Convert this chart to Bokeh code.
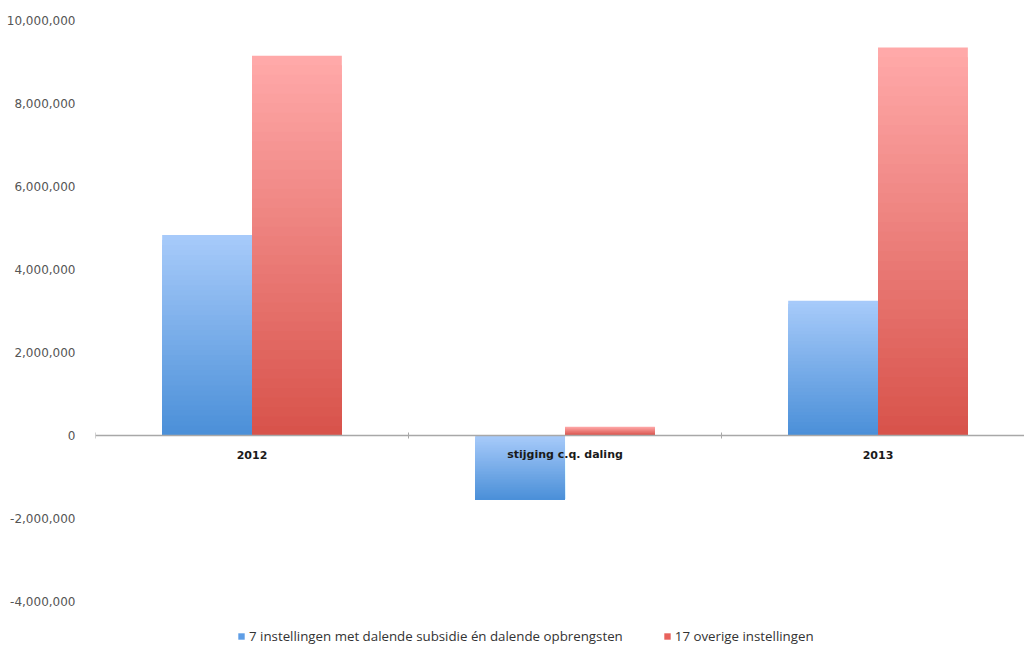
from bokeh.plotting import figure
from bokeh.models import (ColumnDataSource, Range1d, FixedTicker, NumeralTickFormatter,
                          Legend, LegendItem, Span)
from bokeh.core.properties import value
from bokeh.embed import file_html
from bokeh.resources import INLINE
import numpy as np

# ---- data ----
categories = ["2012", "stijging c.q. daling", "2013"]
series_names = ["7 instellingen met dalende subsidie én dalende opbrengsten",
                "17 overige instellingen"]
values_7 = [4830000, -1550000, 3250000]
values_17 = [9150000, 210000, 9350000]
y_ticks = [-4000000, -2000000, 0, 2000000, 4000000, 6000000, 8000000, 10000000]

# ---- styles ----
blue_top, blue_bot = (168, 203, 250), (74, 143, 216)
red_top, red_bot = (255, 170, 170), (216, 82, 74)
bar_w = 0.287
N = 40

def hexc(c):
    return "#%02x%02x%02x" % tuple(int(round(v)) for v in c)

def gradient_bars(vals, offset, ctop, cbot):
    # layered slices: each slice spans from its top edge down to the bar base
    left, right, bottom, top, color = [], [], [], [], []
    for i, v in enumerate(vals):
        lo, hi = min(0, v), max(0, v)
        edges = np.linspace(hi, lo, N + 1)
        for k in range(N):
            t = (k + 0.5) / N
            c = [ctop[j] + (cbot[j] - ctop[j]) * t for j in range(3)]
            left.append(i + offset - bar_w / 2)
            right.append(i + offset + bar_w / 2)
            top.append(edges[k])
            bottom.append(lo)
            color.append(hexc(c))
    return ColumnDataSource(dict(left=left, right=right, bottom=bottom, top=top, color=color))

p = figure(width=1024, height=645, output_backend="svg", toolbar_location=None,
           x_range=Range1d(-0.5, 2.468), y_range=Range1d(-5060000, 10000000),
           x_axis_location=None, min_border_left=95, min_border_right=0,
           min_border_top=20, min_border_bottom=0)
p.outline_line_color = None
p.grid.visible = False
p.background_fill_color = "white"

src7 = gradient_bars(values_7, -bar_w / 2, blue_top, blue_bot)
src17 = gradient_bars(values_17, bar_w / 2, red_top, red_bot)
r7 = p.quad(left="left", right="right", bottom="bottom", top="top", source=src7,
            fill_color="color", line_color=None)
r17 = p.quad(left="left", right="right", bottom="bottom", top="top", source=src17,
             fill_color="color", line_color=None)

# zero line
p.add_layout(Span(location=0, dimension="width", line_color="#a8a8a8", line_width=1.5))
bounds = [i - 0.5 for i in range(len(categories) + 1)]
p.scatter(x=bounds, y=[0] * len(bounds), marker="dash", angle=np.pi / 2, size=6,
          line_color="#a8a8a8", line_width=1)

# category labels at the zero line
p.text(x=list(range(len(categories))), y=[0] * len(categories), text=categories,
       text_align="center", text_baseline="middle", y_offset=19,
       text_font=value("DejaVu Sans"), text_font_style="bold", text_font_size="11px",
       text_color="#1a1a1a")

# y axis
ya = p.yaxis[0]
ya.ticker = FixedTicker(ticks=y_ticks)
ya.formatter = NumeralTickFormatter(format="0,0")
ya.axis_line_color = None
ya.major_tick_line_color = None
ya.minor_tick_line_color = None
ya.major_label_text_font = "DejaVu Sans"
ya.major_label_text_font_size = "12px"
ya.major_label_text_color = "#555555"
ya.major_label_standoff = 14

# legend
d7 = p.quad(left=[0], right=[0], bottom=[0], top=[0], fill_color="#5f9ee6",
            line_color=None)
d17 = p.quad(left=[0], right=[0], bottom=[0], top=[0], fill_color="#e8625c",
             line_color=None)
leg = Legend(items=[LegendItem(label=series_names[0], renderers=[d7]),
                    LegendItem(label=series_names[1], renderers=[d17])],
             orientation="horizontal", location=(142, 0),
             glyph_width=8, glyph_height=8, label_standoff=4, spacing=40,
             label_text_font="Open Sans", label_text_font_size="13.3px",
             label_text_color="#333333", border_line_color=None,
             background_fill_alpha=0, padding=0, margin=0, label_height=12)
p.add_layout(leg, "center")

open("out.html", "w").write(file_html(p, INLINE))
